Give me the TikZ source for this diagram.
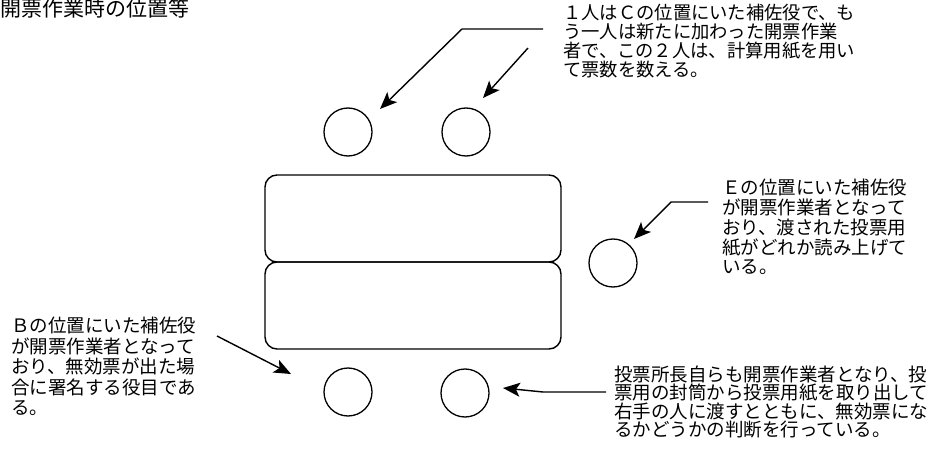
\documentclass[tikz,border=0pt]{standalone}
\usepackage{fontspec}
\newfontfamily\jp{Noto Sans CJK JP}
\usetikzlibrary{arrows.meta,calc}
\begin{document}
\begin{tikzpicture}[x=1pt,y=-1pt,
  person/.style={circle,draw,line width=1.3pt,minimum size=48pt,inner sep=0pt},
  tablebox/.style={draw,rounded corners=12pt,line width=1.4pt,minimum width=296pt,minimum height=87pt,inner sep=0pt},
  note/.style={align=left,anchor=north west,inner sep=0pt},
  arr/.style={line width=1.4pt,-{Stealth[length=17pt,width=14pt,inset=4pt]}}]
\fill[white] (0,0) rectangle (952,454);
\useasboundingbox (0,0) rectangle (952,454);

% title
\node[note,font=\jp\fontsize{21}{22}\selectfont] (title) at (0,-1) {開票作業時の位置等};

% tables
\node[tablebox] (tabU) at (413,218.5) {};
\node[tablebox] (tabL) at (413,305.5) {};

% persons
\node[person] (c1) at (348,132) {};
\node[person] (c2) at (466,132) {};
\node[person] (c3) at (613,263) {};
\node[person] (c4) at (348,392) {};
\node[person] (c5) at (465,393) {};

% notes
\node[note,font=\jp\fontsize{18.3}{19}\selectfont] (tC) at (563,4)
  {１人はＣの位置にいた補佐役で、も\\う一人は新たに加わった開票作業\\者で、この２人は、計算用紙を用い\\て票数を数える。};
\node[note,font=\jp\fontsize{18.5}{19.8}\selectfont] (tE) at (722,179)
  {Ｅの位置にいた補佐役\\が開票作業者となって\\おり、渡された投票用\\紙がどれか読み上げて\\いる。};
\node[note,font=\jp\fontsize{18.5}{20.5}\selectfont] (tB) at (11,317)
  {Ｂの位置にいた補佐役\\が開票作業者となって\\おり、無効票が出た場\\合に署名する役目であ\\る。};
\node[note,font=\jp\fontsize{18.5}{18.2}\selectfont] (tA) at (614,366)
  {投票所長自らも開票作業者となり、投\\票用の封筒から投票用紙を取り出して\\右手の人に渡すとともに、無効票にな\\るかどうかの判断を行っている。};

% arrows
\coordinate (s1) at (543,29);
\coordinate (b1) at (462,29);
\draw[arr] (s1) -- (b1) -- ($(c1)+(32,-23)$);
\coordinate (s2) at (528,48);
\draw[arr] (s2) -- ($(c2)+(17,-34)$);
\coordinate (s3) at (708,202);
\coordinate (b3) at (671,202);
\draw[arr] (s3) -- (b3) -- ($(c3)+(21,-24)$);
\coordinate (s4) at (217,336);
\draw[arr] (s4) -- ($(c4)+(-57,-18)$);
\coordinate (s5) at (606,392);
\coordinate (b5) at (543,392);
\draw[arr] (s5) -- (b5) -- ($(c5)+(38,-5)$);
\end{tikzpicture}
\end{document}
